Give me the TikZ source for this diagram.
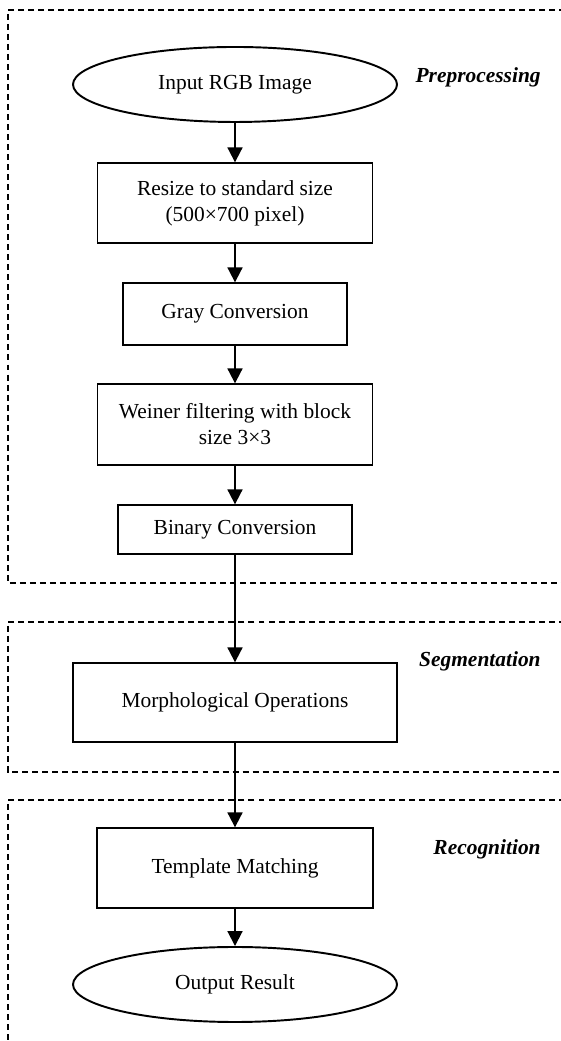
\documentclass[tikz,border=0pt]{standalone}
\usepackage{fontspec}
\setmainfont{Liberation Serif}
\usetikzlibrary{shapes.geometric,arrows.meta}

\begin{document}
\begin{tikzpicture}[x=1cm,y=1cm,
  font=\fontsize{12.2}{14.8}\selectfont,
  stagebox/.style={draw,line width=0.75pt,align=center,inner sep=2pt},
  termbox/.style={draw,ellipse,line width=1.1pt,minimum width=6.48cm,minimum height=1.5cm,inner sep=0pt},
  phase/.style={line width=0.6pt,dash pattern=on 3.4pt off 2.3pt},
  flow/.style={-{Triangle[length=8.5pt,width=8.5pt]},line width=1.1pt},
  tag/.style={anchor=east,inner sep=0pt,font=\fontsize{12.2}{14.8}\selectfont\bfseries\itshape}]
\useasboundingbox (0,0) rectangle (11.2,20.82);
% phase frames
\draw[phase] (11.5,20.62) -- (0.16,20.62) -- (0.16,9.16) -- (11.5,9.16);
\draw[phase] (11.5,8.38) -- (0.16,8.38) -- (0.16,5.38) -- (11.5,5.38);
\draw[phase] (11.5,4.82) -- (0.16,4.82) -- (0.16,-0.3);
\node[tag] (pre) at (10.82,19.28) {Preprocessing};
\node[tag] (seg) at (10.82,7.60) {Segmentation};
\node[tag] (rec) at (10.82,3.84) {Recognition};
% steps
\node[termbox] (input) at (4.7,19.13) {Input RGB Image};
\node[stagebox,minimum width=5.5cm,minimum height=1.6cm] (resize) at (4.7,16.76) {Resize to standard size\\(500×700 pixel)};
\node[stagebox,minimum width=4.48cm,minimum height=1.24cm] (gray) at (4.7,14.54) {Gray Conversion};
\node[stagebox,minimum width=5.5cm,minimum height=1.62cm] (wiener) at (4.7,12.33) {Weiner filtering with block\\size 3×3};
\node[stagebox,minimum width=4.68cm,minimum height=0.98cm] (binary) at (4.7,10.23) {Binary Conversion};
\node[stagebox,minimum width=6.48cm,minimum height=1.58cm] (morph) at (4.7,6.77) {Morphological Operations};
\node[stagebox,minimum width=5.52cm,minimum height=1.6cm] (templ) at (4.7,3.46) {Template Matching};
\node[termbox] (output) at (4.7,1.13) {Output Result};
% arrows
\draw[flow] (input) -- (resize);
\draw[flow] (resize) -- (gray);
\draw[flow] (gray) -- (wiener);
\draw[flow] (wiener) -- (binary);
\draw[flow] (binary) -- (morph);
\draw[flow] (morph) -- (templ);
\draw[flow] (templ) -- (output);
\end{tikzpicture}
\end{document}
